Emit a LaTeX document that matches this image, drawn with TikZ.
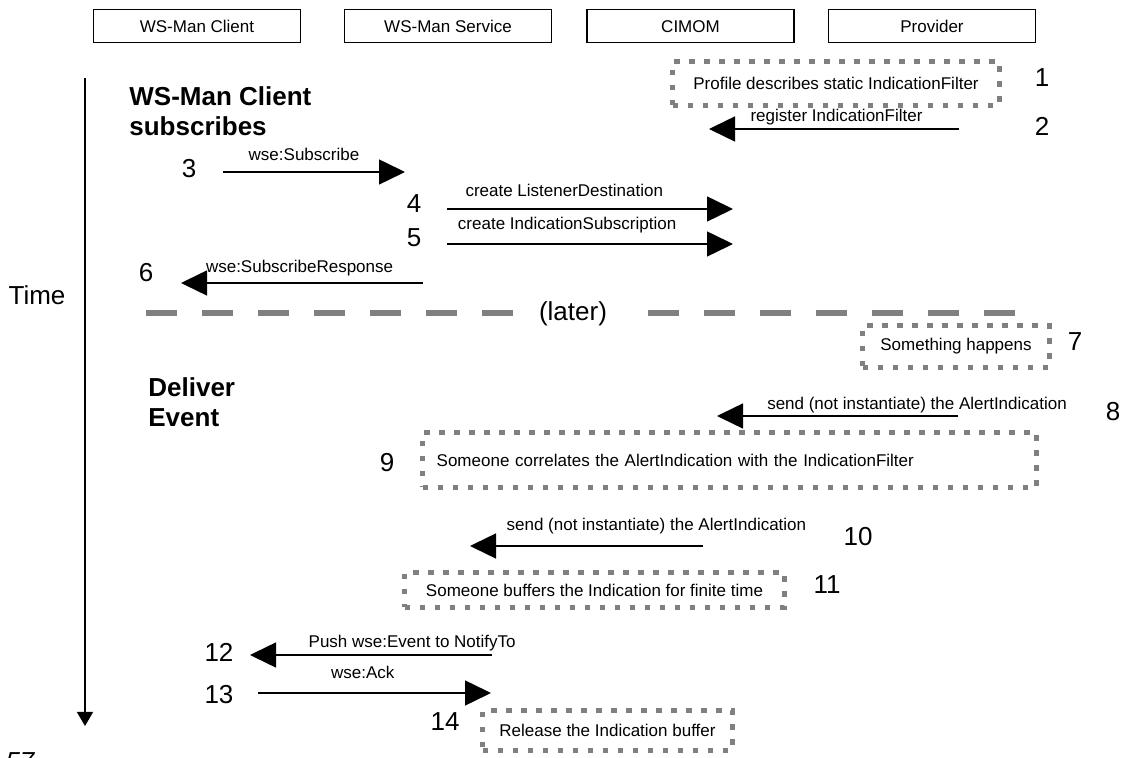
\documentclass[tikz,border=0pt]{standalone}
\usepackage{fontspec}
\setmainfont{Liberation Sans}
\usepackage{tikz}
\usetikzlibrary{arrows.meta}
\definecolor{dotgray}{RGB}{128,128,128}

\begin{document}
\begin{tikzpicture}[x=0.5pt,y=-0.5pt]
\tikzstyle{actor} = [rectangle, draw=black, line width=0.7pt, minimum width=103.5pt, minimum height=16.5pt, inner sep=0pt, text height=6.1pt, text depth=0pt, font=\fontsize{8.5}{10}\selectfont]
\tikzstyle{note} = [rectangle, draw=dotgray, line width=2.75pt, dash pattern=on 2.75pt off 4.75pt, inner sep=0pt, font=\fontsize{8.5}{10}\selectfont]
\tikzstyle{num} = [inner sep=0pt, font=\fontsize{13}{15}\selectfont]
\tikzstyle{head} = [inner sep=0pt, anchor=north west, align=left, font=\fontsize{13}{15}\selectfont\bfseries]
\tikzstyle{lab} = [inner sep=0pt, anchor=base, font=\fontsize{8.5}{10}\selectfont]
\tikzstyle{msg} = [-{Triangle[length=13pt,width=12.5pt]}, line width=0.75pt]
\tikzstyle{later} = [dotgray, line width=2.8pt, dash pattern=on 15.5pt off 12.5pt]
\useasboundingbox (0,0) rectangle (1125,758);

% lifelines
\node[actor] (client) at (197,26) {WS-Man Client};
\node[actor] (service) at (448,26) {WS-Man Service};
\node[actor] (cimom) at (690.5,26) {CIMOM};
\node[actor] (provider) at (932,26) {Provider};

% time axis
\node[num] (time) at (37,295) {Time};
\coordinate (t0) at (85,78);
\coordinate (t1) at (85,726);
\draw[-{Triangle[length=7pt,width=8pt]}, line width=0.6pt] (t0) -- (t1);
\node[num, font=\fontsize{13}{15}\selectfont\itshape] (page) at (20,762) {57};

\node[head] (subs) at (129,86) {WS-Man Client\\subscribes};
\node[head] (deliver) at (148,377) {Deliver\\Event};

% notes
\node[note, minimum width=163.3pt, minimum height=21.8pt] (n1) at (836,83.5) {Profile describes static IndicationFilter};
\node[note, minimum width=93.3pt, minimum height=20.8pt] (n7) at (956,346.5) {Something happens};
\node[note, minimum height=27.3pt, text width=292.8pt, inner xsep=7pt, align=left] (n9) at (729.5,460) {Someone correlates the AlertIndication with the IndicationFilter};
\node[note, minimum width=189.8pt, minimum height=17.3pt] (n11) at (594.5,590) {Someone buffers the Indication for finite time};
\node[note, minimum width=124.8pt, minimum height=19.8pt] (n14) at (607.5,730.5) {Release the Indication buffer};

% step numbers
\node[num] (s1) at (1042,78) {1};
\node[num] (s2) at (1042,126) {2};
\node[num] (s3) at (189,169) {3};
\node[num] (s4) at (414,204) {4};
\node[num] (s5) at (414,238) {5};
\node[num] (s6) at (146,273) {6};
\node[num] (s7) at (1075,342) {7};
\node[num] (s8) at (1113,412) {8};
\node[num] (s9) at (387,463) {9};
\node[num] (s10) at (858,537) {10};
\node[num] (s11) at (827,585) {11};
\node[num] (s12) at (219,652) {12};
\node[num] (s13) at (219,695) {13};
\node[num] (s14) at (445,722) {14};

% messages
\coordinate (a2s) at (959,129); \coordinate (a2e) at (709,129);
\coordinate (a3s) at (223,172); \coordinate (a3e) at (405,172);
\coordinate (a4s) at (447,209); \coordinate (a4e) at (733,209);
\coordinate (a5s) at (447,244); \coordinate (a5e) at (733,244);
\coordinate (a6s) at (423,283); \coordinate (a6e) at (181,283);
\coordinate (a8s) at (958,416); \coordinate (a8e) at (717,416);
\coordinate (a10s) at (703,546); \coordinate (a10e) at (470,546);
\coordinate (a12s) at (492,655); \coordinate (a12e) at (250,655);
\coordinate (a13s) at (258,693); \coordinate (a13e) at (491,693);
\draw[msg] (a2s)--(a2e) node[lab,pos=.49,yshift=3.5pt] (l2) {register IndicationFilter};
\draw[msg] (a3s)--(a3e) node[lab,pos=.445,yshift=5.5pt] (l3) {wse:Subscribe};
\draw[msg] (a4s)--(a4e) node[lab,pos=.41,yshift=6pt] (l4) {create ListenerDestination};
\draw[msg] (a5s)--(a5e) node[lab,pos=.42,yshift=7pt] (l5) {create IndicationSubscription};
\draw[msg] (a6s)--(a6e) node[lab,pos=.51,yshift=5pt] (l6) {wse:SubscribeResponse};
\draw[msg] (a8s)--(a8e) node[lab,pos=.17,yshift=3pt] (l8) {send (not instantiate) the AlertIndication};
\draw[msg] (a10s)--(a10e) node[lab,pos=.2,yshift=7.5pt] (l10) {send (not instantiate) the AlertIndication};
\draw[msg] (a12s)--(a12e) node[lab,pos=.33,yshift=3.5pt] (l12) {Push wse:Event to NotifyTo};
\draw[msg] (a13s)--(a13e) node[lab,pos=.45,yshift=7pt] (l13) {wse:Ack};

% later
\node[num] (later) at (573,314) {(later)};
\coordinate (sepL) at (146,313); \coordinate (gapL) at (514,313);
\coordinate (gapR) at (648,313); \coordinate (sepR) at (1017,313);
\draw[later] (sepL) -- (gapL);
\draw[later] (gapR) -- (sepR);
\end{tikzpicture}
\end{document}
